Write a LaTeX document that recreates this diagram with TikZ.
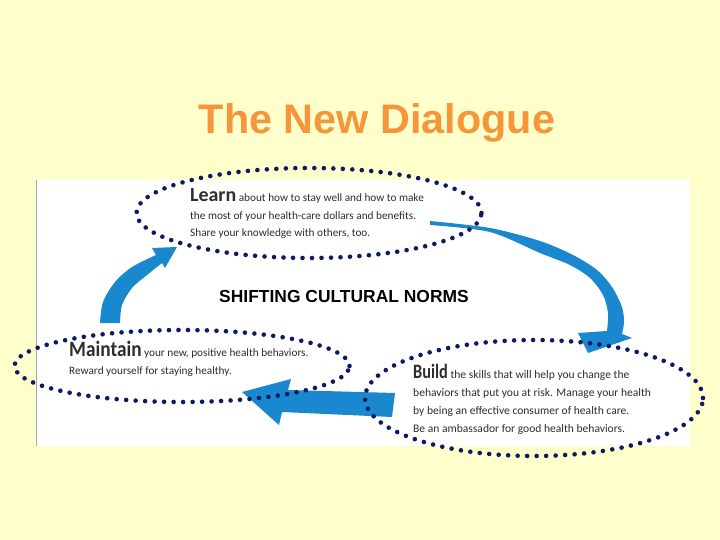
\documentclass[tikz,border=0pt]{standalone}
\usepackage{fontspec}
\setmainfont{Carlito}
\newfontfamily\headfont{Liberation Sans}
\usepackage{graphicx}
\usetikzlibrary{shapes.geometric}
\definecolor{paper}{HTML}{FFFFCC}
\definecolor{titleorange}{HTML}{F5963A}
\definecolor{navy}{HTML}{0C1A66}
\definecolor{flowblue}{HTML}{1A88CE}
\definecolor{ink}{HTML}{2E2E2E}
\definecolor{rulegray}{HTML}{A8A8A8}
\newcommand\leadword[3]{{\fontsize{#2}{#2}\selectfont\bfseries\scalebox{#1}[1]{#3}}}

\begin{document}
\begin{tikzpicture}[x=1bp,y=-1bp,
  ring/.style={ellipse,draw=navy,line width=4.6bp,line cap=round,
    dash pattern=on 0bp off 9.5bp,inner sep=0pt},
  flow/.style={fill=flowblue},
  blurb/.style={anchor=base west,inner sep=0pt,align=left,text=ink,
    font=\fontsize{11.3}{18}\selectfont},
  heading/.style={font=\headfont\bfseries\fontsize{#1}{#1}\selectfont,anchor=base}]
\useasboundingbox (0,0) rectangle (720,540);
\fill[paper] (0,0) rectangle (720,540);
\fill[white] (36,180) rectangle (690,446);
\draw[rulegray,line width=1bp] (36,180) -- (36,446);
\node[heading=41.5,text=titleorange] (title) at (377,134) {The New Dialogue};
\node[heading=17.5] (norms) at (344,302) {SHIFTING CULTURAL NORMS};
% arrows of the cycle
\fill[flow] plot[smooth] coordinates {(430,221) (490,228) (540,241) (573,255) (597,270)
    (612,287) (622,307) (624,322) (622,334)}
  -- (632,338) -- (588,353) -- (578,333)
  -- plot[smooth] coordinates {(607,331) (608,313) (603,295) (590,278) (570,265)
    (540,253) (490,232) (430,225)} -- cycle;
\fill[flow] (395,393) -- (288,390) -- (291,379) -- (242,392) -- (279,425)
  -- (282,412) -- (392,417) -- cycle;
\fill[flow] plot[smooth] coordinates {(100,323) (103,302) (115,282) (132,267) (156,255)}
  -- (152,248) -- (177,247) -- (165,268)
  -- plot[smooth] coordinates {(162,263) (147,275) (132,288) (122,305) (120,323)} -- cycle;
% dotted rings
\node[ring,minimum width=345bp,minimum height=90bp] (learn) at (309,213) {};
\node[ring,minimum width=335bp,minimum height=72bp] (maintain) at (182,366) {};
\node[ring,minimum width=338bp,minimum height=116bp] (build) at (534,398) {};
% texts (base = last line)
\node[blurb] (learntxt) at (190,237) {\leadword{1}{20}{Learn} about how to stay well and how to make\\
  the most of your health-care dollars and benefits.\\
  Share your knowledge with others, too.};
\node[blurb] (maintaintxt) at (69,374) {\leadword{.88}{22}{Maintain} your new, positive health behaviors.\\
  Reward yourself for staying healthy.};
\node[blurb,font=\fontsize{11.6}{18}\selectfont] (buildtxt) at (413,432) {\leadword{.8}{20.5}{Build} the skills that will help you change the\\
  behaviors that put you at risk. Manage your health\\
  by being an effective consumer of health care.\\
  Be an ambassador for good health behaviors.};
\end{tikzpicture}
\end{document}
